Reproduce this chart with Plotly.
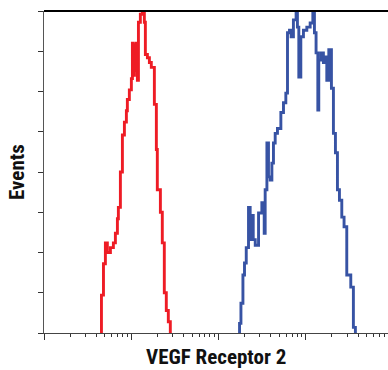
import plotly.graph_objects as go

# Red (control) histogram: bin edges (fluorescence intensity) and event counts
red_edges = [4.56, 4.81, 5.06, 5.33, 5.78, 6.25, 6.59, 6.95, 7.13, 7.52,
             7.93, 8.36, 8.81, 9.04, 9.53, 10.05, 10.33, 10.59, 10.89, 11.17,
             11.48, 11.78, 12.11, 12.74, 13.43, 14.16, 14.55, 15.35, 16.18, 17.02,
             18.45, 19.45, 19.95, 21.63, 22.75, 23.99, 25.29, 26.67, 28.12]
red_counts = [23.5, 43, 56, 50, 53, 56, 62, 71, 78, 100,
              123, 131, 138, 145, 151, 158, 180, 160, 179, 163,
              180, 157, 193, 198, 200, 193, 173, 171, 168, 165,
              142, 114, 89, 75, 56, 25, 14, 7]

# Blue (VEGF Receptor 2) histogram
blue_edges = [175, 181.6, 191.4, 199.5, 208.9, 221.8, 231.7, 241.5, 251.2, 264.9,
              289.1, 315.5, 335.7, 344.4, 360.6, 375.8, 393.6, 411.1, 428.5, 448.7,
              476.4, 521.2, 558.5, 594.3, 620.9, 654.6, 683.9, 726.1, 779.8, 807.2,
              837.5, 883.1, 946.2, 1035, 1130, 1213, 1265, 1321, 1384, 1419,
              1496, 1603, 1675, 1754, 1849, 1982, 2089, 2203, 2323, 2449,
              2606, 2767, 2972, 3304, 3540, 3733]
blue_counts = [6, 18.5, 36, 43.5, 53, 78, 58, 73, 58, 54.5,
               74.5, 81, 62, 89, 118, 97, 95, 105.5, 118, 124,
               127, 137, 143, 149, 186.5, 188, 184, 194.5, 199.5, 190,
               159, 184, 188, 190, 192.5, 199.5, 186.5, 174, 138.5, 169.5,
               174, 168, 171.5, 157, 176, 152, 124, 112, 89, 82.5,
               72, 66, 36, 28.5, 3.5]

major_ticks = [1, 10, 100, 1000]
minor_ticks = [m * d for d in [1, 10, 100, 1000] for m in range(2, 10)]

x_title = "VEGF Receptor 2"
y_title = "Events"


def step_xy(edges, counts):
    xs = [edges[0]] + list(edges)
    ys = [0] + list(counts) + [0]
    return xs, ys


fig = go.Figure()
for edges, counts, color in [(red_edges, red_counts, "#ee1c25"),
                             (blue_edges, blue_counts, "#3753a4")]:
    xs, ys = step_xy(edges, counts)
    fig.add_trace(go.Scatter(x=xs, y=ys, mode="lines", line_shape="hv",
                             line=dict(color=color, width=2.9),
                             showlegend=False, hoverinfo="skip"))

title_font = dict(family="Liberation Sans Narrow, Arial Narrow, Roboto Condensed, Liberation Sans, sans-serif",
                  size=21, color="#111111")

fig.update_layout(
    width=388, height=370,
    margin=dict(l=44, r=0, t=11, b=37),
    paper_bgcolor="white", plot_bgcolor="white",
    xaxis=dict(type="log", range=[0, 3.946], showgrid=False, zeroline=False,
               automargin=False,
               showline=True, linecolor="#444444", linewidth=1.3,
               tickmode="array", tickvals=major_ticks, ticks="outside",
               ticklen=6, tickwidth=1.3, tickcolor="#333333", showticklabels=False,
               minor=dict(tickmode="array", tickvals=minor_ticks, ticks="outside",
                          ticklen=3, tickwidth=1.2, tickcolor="#333333", showgrid=False)),
    yaxis=dict(range=[0, 200], showgrid=False, zeroline=False,
               automargin=False,
               showline=True, linecolor="#555555", linewidth=1.3,
               dtick=25, ticks="outside", ticklen=5, tickwidth=1.3, tickcolor="#333333",
               showticklabels=False),
    shapes=[dict(type="line", xref="paper", yref="paper", x0=0, x1=1, y0=1, y1=1,
                 line=dict(color="black", width=2))],
    annotations=[
        dict(text="<b>" + x_title + "</b>", xref="paper", yref="paper", x=0.5, y=0,
             xanchor="center", yanchor="middle", yshift=-24, showarrow=False, font=title_font),
        dict(text="<b>" + y_title + "</b>", xref="paper", yref="paper", x=0, y=0.5,
             xanchor="center", yanchor="middle", xshift=-27, textangle=-90,
             showarrow=False, font=title_font),
    ],
)

fig.write_html("out.html",
               config={"displayModeBar": False},
               post_script="document.body.style.margin='0';document.body.style.padding='0';document.body.style.overflow='hidden';")
